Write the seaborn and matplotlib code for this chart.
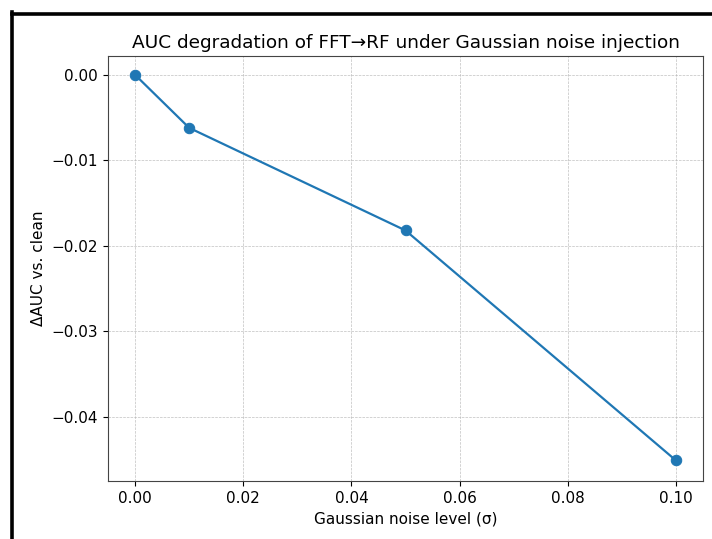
import matplotlib
matplotlib.use("Agg")
import matplotlib.pyplot as plt
import seaborn as sns
import pandas as pd
from matplotlib.lines import Line2D

# noise levels and AUC change vs clean run
noise_levels = [0.0, 0.01, 0.05, 0.10]
delta_auc = [0.0, -0.0062, -0.0182, -0.0451]

df = pd.DataFrame({"sigma": noise_levels, "delta": delta_auc})

plt.rcParams["font.size"] = 11
plt.rcParams["xtick.labelsize"] = 11
plt.rcParams["ytick.labelsize"] = 11
plt.rcParams["xtick.major.size"] = 3.8
plt.rcParams["ytick.major.size"] = 3.8

fig = plt.figure(figsize=(7.12, 5.39), dpi=100)
ax = fig.add_axes([0.1517, 0.1076, 0.8357, 0.7885])

sns.lineplot(data=df, x="sigma", y="delta", marker="o", markersize=7.5,
             markeredgecolor="#1f77b4", color="#1f77b4", linewidth=1.6, ax=ax)

ax.grid(True, linestyle="--", linewidth=0.5, color="#b0b0b0", alpha=0.8)
ax.set_title("AUC degradation of FFT→RF under Gaussian noise injection", fontsize=13.3)
ax.set_xlabel("Gaussian noise level (σ)", fontsize=11)
ax.set_ylabel("ΔAUC vs. clean", fontsize=11)
ax.set_xticks([0.0, 0.02, 0.04, 0.06, 0.08, 0.10])
ax.set_yticks([0.0, -0.01, -0.02, -0.03, -0.04])
ax.set_xlim(-0.005, 0.105)
ax.set_ylim(-0.0475, 0.0022)
for s in ax.spines.values():
    s.set_color("#444444")

# black frame on left and top edges (cropped screenshot look)
W, H = 712, 539
fig.add_artist(Line2D([11.5 / W, 11.5 / W], [0, 1 - 12 / H], color="black",
                      linewidth=2.6, transform=fig.transFigure, solid_capstyle="projecting"))
fig.add_artist(Line2D([11.5 / W, 1], [1 - 13.5 / H, 1 - 13.5 / H], color="black",
                      linewidth=2.6, transform=fig.transFigure, solid_capstyle="projecting"))

fig.savefig("out.png", dpi=100)
